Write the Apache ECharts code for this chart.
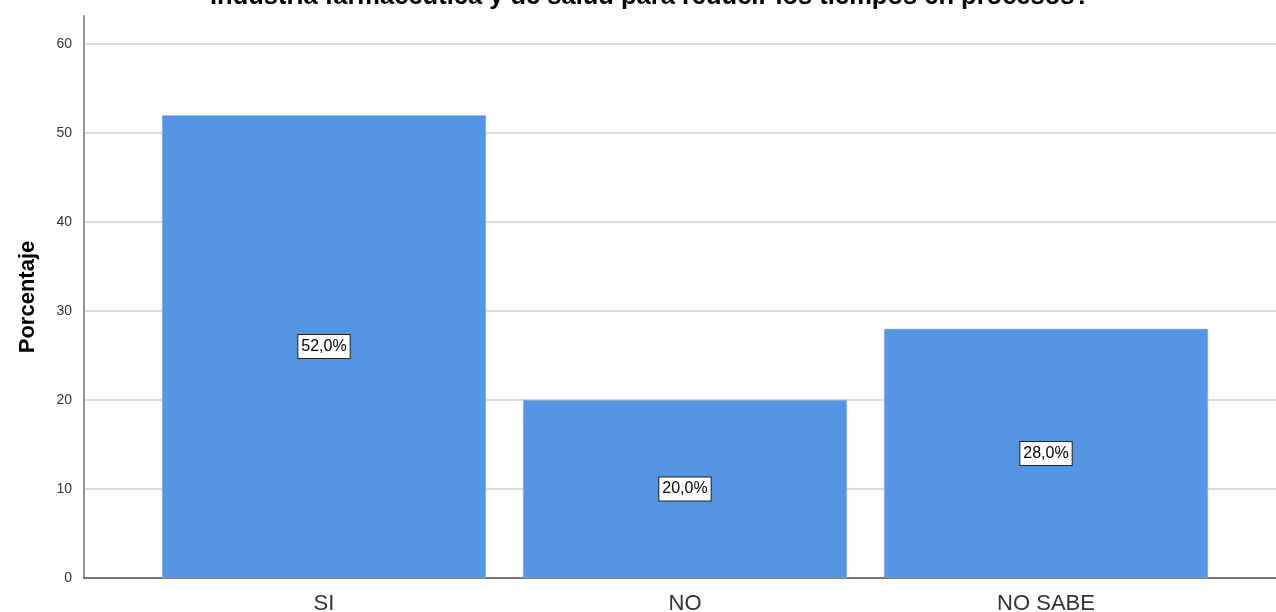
<!DOCTYPE html>
<html>
<head>
<meta charset="utf-8">
<script src="https://cdn.jsdelivr.net/npm/echarts@6/dist/echarts.min.js"></script>
<style>html,body{margin:0;padding:0;background:#fff}#c{width:1276px;height:612px}</style>
</head>
<body>
<div id="c"></div>
<script>
const categories = ['SI', 'NO', 'NO SABE'];
const values = [52.0, 20.0, 28.0];
const titleText = 'industria farmacéutica y de salud para reducir los tiempos en procesos?';
const yName = 'Porcentaje';

const chart = echarts.init(document.getElementById('c'));
const font = 'Liberation Sans, Arial, sans-serif';
chart.setOption({
  animation: false,
  title: {
    text: titleText, left: 645, textAlign: 'center', top: -21,
    textStyle: {fontFamily: font, fontSize: 25.5, fontWeight: 'bold', color: '#000'}
  },
  grid: [
    {left: 84, right: 0, top: 44, bottom: 34, outerBoundsMode: 'none', containLabel: false},
    {left: 84, right: 0, top: 16, bottom: 34, outerBoundsMode: 'none', containLabel: false},
    {left: 143.5, width: 1083, top: 44, bottom: 34, outerBoundsMode: 'none', containLabel: false}
  ],
  xAxis: [
    {gridIndex: 0, type: 'value', min: 0, max: 1, axisLabel: {show: false}, axisTick: {show: false}, splitLine: {show: false},
     axisLine: {show: true, lineStyle: {color: '#555', width: 1.5}}},
    {gridIndex: 1, type: 'value', show: false, min: 0, max: 1},
    {gridIndex: 2, type: 'category', data: categories, axisLine: {show: false}, axisTick: {show: false},
     axisLabel: {fontFamily: font, fontSize: 22, color: '#333', margin: 15}}
  ],
  yAxis: [
    {gridIndex: 0, type: 'value', min: 0, max: 60, interval: 10,
     axisLine: {show: false}, axisTick: {show: false},
     axisLabel: {fontFamily: font, fontSize: 14, color: '#333', margin: 12},
     splitLine: {show: true, lineStyle: {color: '#cfcfcf', width: 1.5}}},
    {gridIndex: 1, type: 'value', min: 0, max: 1, axisLabel: {show: false}, axisTick: {show: false}, splitLine: {show: false},
     axisLine: {show: true, lineStyle: {color: '#999', width: 2}},
     name: yName, nameLocation: 'middle', nameGap: 45,
     nameTextStyle: {fontFamily: font, fontSize: 22, fontWeight: 'bold', color: '#000'}},
    {gridIndex: 2, type: 'value', min: 0, max: 60, show: false}
  ],
  series: [{
    type: 'bar', xAxisIndex: 2, yAxisIndex: 2, data: values, barWidth: '89.75%',
    itemStyle: {color: '#5595e4', borderColor: '#8fb8ec', borderWidth: 0.5},
    label: {
      show: true, position: 'inside',
      formatter: p => p.value.toFixed(1).replace('.', ',') + '%',
      fontFamily: font, fontSize: 16, color: '#000',
      backgroundColor: '#fff', borderColor: '#222', borderWidth: 1, padding: [5, 3, 2, 3]
    }
  }]
});
</script>
</body>
</html>
